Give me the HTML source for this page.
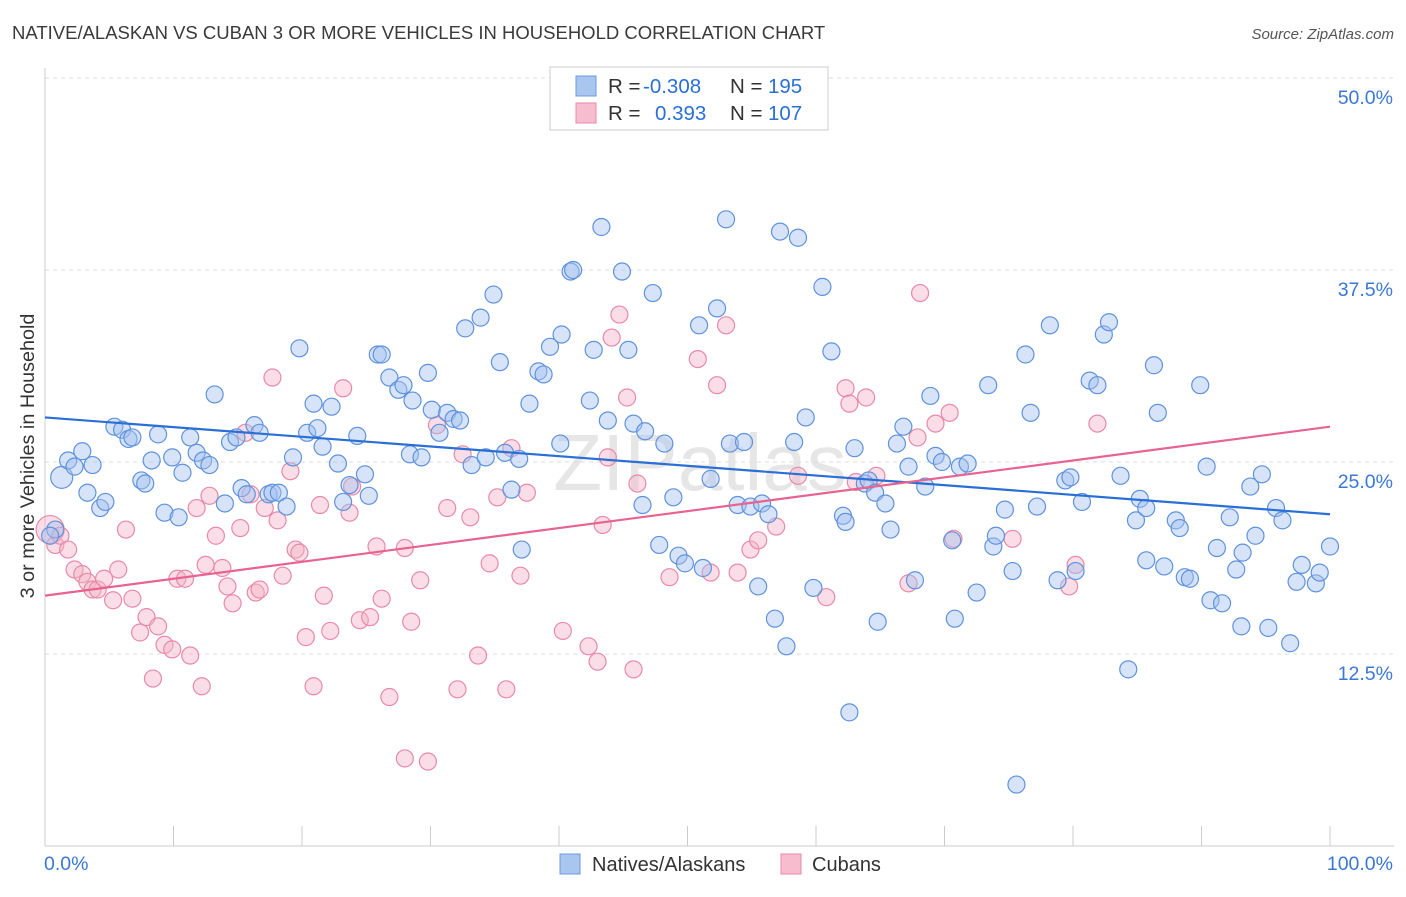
<!DOCTYPE html>
<html><head><meta charset="utf-8"><style>
body{margin:0;background:#fff;font-family:"Liberation Sans",sans-serif}
svg text{font-family:"Liberation Sans",sans-serif}
</style></head><body>
<svg id="chart" width="1406" height="892" xmlns="http://www.w3.org/2000/svg">
<text x="12" y="39" font-size="18.5" fill="#3a3a3a">NATIVE/ALASKAN VS CUBAN 3 OR MORE VEHICLES IN HOUSEHOLD CORRELATION CHART</text>
<text x="1394" y="39" font-size="15" fill="#555" text-anchor="end" font-style="italic">Source: ZipAtlas.com</text>
<text x="700" y="490" font-size="80" fill="#e6e6e6" text-anchor="middle" font-family="Liberation Serif">ZIPatlas</text>
<g id="grid"></g>
<g id="axes"></g>
<g id="pts"></g>
<g id="lines"></g>
<text transform="translate(34,456) rotate(-90)" font-size="19.8" fill="#333" text-anchor="middle">3 or more Vehicles in Household</text>
<g>
<rect x="550" y="67" width="278" height="63" fill="#fff" stroke="#ccc"/>
<rect x="576" y="76" width="20" height="20" fill="#a9c6f0" stroke="#6a9be0"/>
<rect x="576" y="103" width="20" height="20" fill="#f7bccd" stroke="#e88aa8"/>
<text x="608" y="93" font-size="20.5" fill="#333">R = </text><text x="643" y="93" font-size="20.5" fill="#2a6fd6">-0.308</text>
<text x="730" y="93" font-size="20.5" fill="#333">N = </text><text x="768" y="93" font-size="20.5" fill="#2a6fd6">195</text>
<text x="608" y="120" font-size="20.5" fill="#333">R = </text><text x="655" y="120" font-size="20.5" fill="#2a6fd6">0.393</text>
<text x="730" y="120" font-size="20.5" fill="#333">N = </text><text x="768" y="120" font-size="20.5" fill="#2a6fd6">107</text>
</g>
<g>
<rect x="560" y="854" width="20" height="20" fill="#a9c6f0" stroke="#6a9be0"/>
<text x="592" y="871" font-size="20" fill="#333">Natives/Alaskans</text>
<rect x="781" y="854" width="20" height="20" fill="#f7bccd" stroke="#e88aa8"/>
<text x="812" y="871" font-size="20" fill="#333">Cubans</text>
</g>
</svg>
<script>
const yTicks=[12.5,25.0,37.5,50.0];
const yTickLabels=["12.5%","25.0%","37.5%","50.0%"];
const xTicks=[0,10,20,30,40,50,60,70,80,90,100];
const xEndLabels=["0.0%","100.0%"];
const blueX=[0.8,0.4,1.3,1.8,2.3,2.9,3.7,3.3,4.3,4.7,5.4,6.0,6.5,6.8,7.5,7.8,8.3,8.8,9.3,9.9,10.4,10.7,11.3,11.8,12.3,12.8,13.2,14.0,14.4,14.9,15.3,15.7,16.3,16.7,17.4,17.7,18.2,18.8,19.3,19.8,20.4,20.9,21.2,21.6,22.3,22.8,23.2,23.7,24.3,24.9,25.2,25.9,26.2,26.8,27.5,27.9,28.6,28.4,29.3,29.8,30.1,30.7,31.3,31.8,32.3,32.7,33.2,33.9,34.3,34.9,35.4,35.8,36.3,36.9,37.1,37.7,38.4,38.8,39.3,40.1,40.2,40.9,41.1,42.4,42.7,43.3,43.8,44.9,45.4,45.8,46.5,46.7,47.3,47.8,48.2,48.9,49.3,49.8,50.9,51.2,51.8,52.3,53.0,53.3,53.9,54.4,54.9,55.5,55.8,56.3,56.8,57.2,57.7,58.3,58.6,59.2,59.8,60.5,61.2,62.1,62.3,62.6,63.0,63.8,64.1,64.6,64.8,65.4,65.8,66.3,66.8,67.2,67.7,68.5,68.9,69.3,69.8,70.6,70.8,71.2,71.8,72.5,73.4,73.8,74.0,74.7,75.3,75.6,76.3,76.7,77.2,78.2,78.8,79.4,79.8,80.2,80.7,81.3,81.9,82.4,82.8,83.7,84.3,84.9,85.2,85.7,85.7,86.3,86.6,87.1,88.0,88.3,88.7,89.1,89.9,90.4,90.7,91.2,91.6,92.2,92.7,93.1,93.2,93.8,94.2,94.7,95.2,95.8,96.3,96.9,97.4,97.8,98.9,99.2,100];
const blueY=[20.6,20.2,24.0,25.1,24.7,25.7,24.8,23.0,22.0,22.4,27.3,27.1,26.5,26.6,23.8,23.6,25.1,26.8,21.7,25.3,21.4,24.3,26.6,25.6,25.1,24.8,29.4,22.3,26.3,26.6,23.3,22.9,27.4,26.9,22.9,23.0,23.0,22.1,25.3,32.4,26.9,28.8,27.2,26.0,28.6,24.9,22.4,23.5,26.7,24.2,22.8,32.0,32.0,30.5,29.7,30.0,29.0,25.5,25.3,30.8,28.4,26.9,28.2,27.8,27.7,33.7,24.8,34.4,25.3,35.9,31.5,25.6,23.2,25.2,19.3,28.8,30.9,30.7,32.5,26.2,33.3,37.4,37.5,29.0,32.3,40.3,27.7,37.4,32.3,27.5,22.2,27.0,36.0,19.6,26.2,22.7,18.9,18.4,33.9,18.1,23.9,35.0,40.8,26.2,22.2,26.3,22.1,16.9,22.3,21.6,14.8,40.0,13.0,26.3,39.6,27.9,16.8,36.4,32.2,21.5,21.1,8.7,25.9,23.6,23.8,23.0,14.6,22.3,20.6,26.2,27.3,24.7,17.3,23.4,29.3,25.4,25.0,19.9,14.8,24.7,24.9,16.5,30.0,19.5,20.2,21.9,17.9,4.0,32.0,28.2,22.1,33.9,17.3,23.8,24.0,17.9,22.4,30.3,30.0,33.3,34.1,24.1,11.5,21.2,22.6,22.0,18.6,31.3,28.2,18.2,21.2,20.7,17.5,17.4,30.0,24.7,16.0,19.4,15.8,21.4,18.0,14.3,19.1,23.4,20.2,24.2,14.2,22.0,21.2,13.2,17.2,18.3,17.1,17.8,19.5];
const pinkX=[0.4,0.8,1.2,1.8,2.3,2.9,3.3,3.7,4.1,4.6,5.3,5.7,6.3,6.8,7.4,7.9,8.4,8.8,9.3,9.9,10.3,10.9,11.3,11.8,12.2,12.5,12.8,13.3,13.8,14.2,14.6,15.2,15.6,16.0,16.4,16.7,17.1,17.7,18.1,18.5,19.1,19.5,19.8,20.3,20.9,21.4,21.7,22.2,23.2,23.7,23.9,24.5,25.3,25.8,26.2,26.8,28.0,28.0,28.5,29.2,29.8,30.5,31.3,32.1,32.5,33.1,33.7,34.6,35.2,35.9,36.3,37.0,37.5,40.3,42.3,43.0,43.4,43.8,44.1,44.7,45.3,45.8,46.1,48.6,50.8,51.8,52.3,53.0,53.9,54.9,55.5,56.9,58.6,60.8,62.3,62.6,63.1,63.9,64.7,67.2,67.9,68.1,69.3,70.4,70.7,75.3,79.7,80.2,81.9];
const pinkY=[20.6,19.6,20.2,19.3,18.0,17.7,17.2,16.7,16.7,17.4,16.0,18.0,20.6,16.1,13.9,14.9,10.9,14.3,13.1,12.8,17.4,17.4,12.4,22.0,10.4,18.3,22.8,20.2,18.1,16.9,15.8,20.7,26.9,22.9,16.5,16.7,22.0,30.5,21.2,17.6,24.4,19.3,19.1,13.6,10.4,22.2,16.3,14.0,29.8,21.7,23.4,14.7,14.9,19.5,16.1,9.7,5.7,19.4,14.6,17.3,5.5,27.4,22.0,10.2,25.5,21.4,12.4,18.4,22.7,10.2,25.9,17.6,23.0,14.0,13.0,12.0,20.9,25.3,33.1,34.6,29.2,11.5,23.6,17.5,31.7,17.8,30.0,33.9,17.8,19.3,19.9,20.8,24.1,16.2,29.8,28.8,23.7,29.2,24.1,17.1,26.6,36.0,27.5,28.2,20.0,20.0,16.9,18.3,27.5];
const blueTrend=[27.9,21.6];
const pinkTrend=[16.3,27.3];
const NS="http://www.w3.org/2000/svg";
const X0=45,X1=1330,Y0=846,YTOP=78;
const sx=v=>X0+(X1-X0)*v/100;
const sy=v=>Y0-(Y0-YTOP)*v/50;
function mk(tag,attrs,parent){const e=document.createElementNS(NS,tag);for(const k in attrs)e.setAttribute(k,attrs[k]);parent.appendChild(e);return e;}
const grid=document.getElementById('grid'),axes=document.getElementById('axes'),pts=document.getElementById('pts'),lines=document.getElementById('lines');
yTicks.forEach((t,i)=>{
  const l=mk('line',{x1:X0,x2:1394,y1:sy(t),y2:sy(t),stroke:'#ddd','stroke-dasharray':'4,4'},grid);
  
  
  const tx=mk('text',{x:1393,y:sy(t)+26,'font-size':19.5,fill:'#3a78d4','text-anchor':'end'},axes);
  tx.textContent=yTickLabels[i];
  
  
});
const ax=mk('line',{x1:X0,x2:1394,y1:Y0,y2:Y0,stroke:'#ccc'},axes);


const ay=mk('line',{x1:X0,x2:X0,y1:68,y2:Y0,stroke:'#ccc'},axes);


xTicks.forEach(t=>{
  const l=mk('line',{x1:sx(t),x2:sx(t),y1:826,y2:Y0,stroke:'#ccc'},axes);
  
  
});
[[0,'start',44],[100,'end',1393]].forEach((d,i)=>{
  const tx=mk('text',{x:d[2],y:870,'font-size':19.5,fill:'#3a78d4','text-anchor':d[1]},axes);
  tx.textContent=xEndLabels[i];
  
  
});
function drawPts(xs,ys,fill,stroke,name){
  xs.forEach((x,i)=>{
    let r=8.5;
    if(i===0&&name==='cuban-point')r=14;
    if(i===2&&name==='native-point')r=11;
    const c=mk('circle',{cx:sx(x),cy:sy(ys[i]),r:r,fill:fill,'fill-opacity':0.45,stroke:stroke,'stroke-width':1.2},pts);
    
    
  });
}
drawPts(pinkX,pinkY,'#f5b3c8','#e88aa8','cuban-point');
drawPts(blueX,blueY,'#a3c1ef','#5f93dd','native-point');
const bl=mk('line',{x1:sx(0),y1:sy(blueTrend[0]),x2:sx(100),y2:sy(blueTrend[1]),stroke:'#2a6fd6','stroke-width':2.2},lines);


const pl=mk('line',{x1:sx(0),y1:sy(pinkTrend[0]),x2:sx(100),y2:sy(pinkTrend[1]),stroke:'#e8638f','stroke-width':2.2},lines);


</script>
</body></html>
